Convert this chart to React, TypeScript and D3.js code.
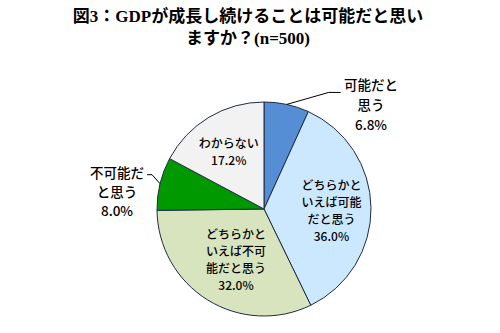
import React from "react";
import * as d3 from "d3";

const categories = ["可能だと思う", "どちらかといえば可能だと思う", "どちらかといえば不可能だと思う", "不可能だと思う", "わからない"];
const values = [6.8, 36.0, 32.0, 8.0, 17.2];
const colors = ["#558ED5", "#CCE8FF", "#D7E4BD", "#009900", "#F2F2F2"];
const labelLines = [
  ["可能だと", "思う"],
  ["どちらかと", "いえば可能", "だと思う"],
  ["どちらかと", "いえば不可", "能だと思う"],
  ["不可能だ", "と思う"],
  ["わからない"],
];
const titleLines = ["図3：GDPが成長し続けることは可能だと思い", "ますか？(n=500)"];

const W = 500, H = 333;
const cx = 264, cy = 209, R = 107;
const FONT = "'Noto Sans CJK JP', sans-serif";
const TFONT = "'Liberation Serif', 'Noto Sans CJK JP', serif";

export default function App() {
  const pie = d3.pie<number>().sort(null).value((d) => d);
  const arcs = pie(values);
  const arc = d3.arc<d3.PieArcDatum<number>>().innerRadius(0).outerRadius(R);
  const labelArc = d3.arc<d3.PieArcDatum<number>>().innerRadius(R * 0.64).outerRadius(R * 0.64);
  const edgeArc = d3.arc<d3.PieArcDatum<number>>().innerRadius(R).outerRadius(R);
  const fmt = (v: number) => v.toFixed(1) + "%";
  const insideOffsets: Record<number, [number, number]> = { 1: [-1, 3], 2: [8, -7], 4: [0, 2] };
  const LH = 17;

  return (
    <svg width={W} height={H} style={{ position: "absolute", left: 0, top: 0, background: "#fff" }}>
      {titleLines.map((t, i) => (
        <text key={i} x={248} y={22 + i * 22} textAnchor="middle" fontFamily={TFONT} fontWeight="bold" fontSize={17} fill="#000">
          {t}
        </text>
      ))}
      <g transform={`translate(${cx},${cy})`}>
        {arcs.map((a, i) => (
          <path key={i} d={arc(a) || ""} fill={colors[i]} stroke="#1f2a44" strokeWidth={1} />
        ))}
      </g>
      {arcs.map((a, i) => {
        if (i === 1 || i === 2 || i === 4) {
          const [lx, ly] = labelArc.centroid(a);
          const [dx, dy] = insideOffsets[i];
          const lines = [...labelLines[i], fmt(values[i])];
          const x = cx + lx + dx;
          const y0 = cy + ly + dy - ((lines.length - 1) * LH) / 2;
          return (
            <g key={i} fontFamily={FONT} fontSize={12} fill="#000" textAnchor="middle" fontWeight="500">
              {lines.map((l, j) => (
                <text key={j} x={x} y={y0 + j * LH + 4.5}>{l}</text>
              ))}
            </g>
          );
        }
        return null;
      })}
      {arcs.map((a, i) => {
        if (i !== 0 && i !== 3) return null;
        const [ex, ey] = edgeArc.centroid(a);
        const px = cx + ex, py = cy + ey;
        const lines = [...labelLines[i], fmt(values[i])];
        if (i === 0) {
          const tx = 371;
          return (
            <g key={i}>
              <polyline points={`${px},${py} ${px + 42},${py - 12} ${px + 54},${py - 12}`} fill="none" stroke="#000" strokeWidth={1} />
              {lines.map((l, j) => (
                <text key={j} x={tx} y={py - 14 + j * 20} textAnchor="middle" fontFamily={FONT} fontSize={13.5} fontWeight="500">{l}</text>
              ))}
            </g>
          );
        }
        const tx = 117;
        return (
          <g key={i}>
            <polyline points={`${px},${py} ${px - 8},${py - 9} ${px - 13},${py - 9}`} fill="none" stroke="#000" strokeWidth={1} />
            {lines.map((l, j) => (
              <text key={j} x={tx} y={py - 6 + j * 19} textAnchor="middle" fontFamily={FONT} fontSize={13.5} fontWeight="500">{l}</text>
            ))}
          </g>
        );
      })}
    </svg>
  );
}
